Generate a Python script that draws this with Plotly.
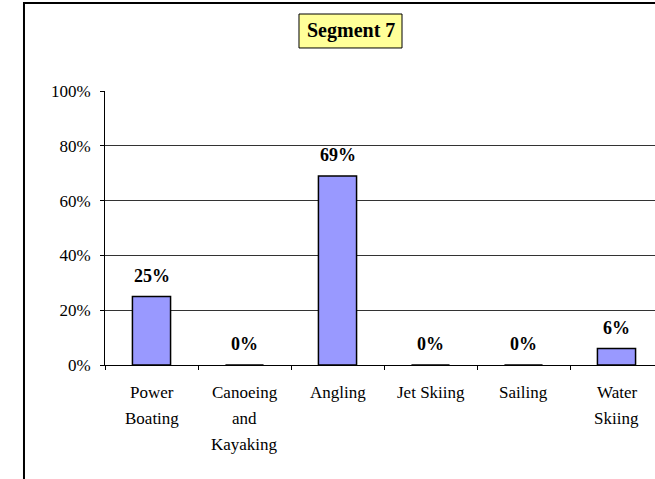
import plotly.graph_objects as go

# ── DATA ────────────────────────────────────────────────────────────────────
categories = ["Power Boating", "Canoeing and Kayaking", "Angling",
              "Jet Skiing", "Sailing", "Water Skiing"]
label_lines = [["Power", "Boating"], ["Canoeing", "and", "Kayaking"], ["Angling"],
               ["Jet Skiing"], ["Sailing"], ["Water", "Skiing"]]
shares = [0.25, 0.0, 0.69, 0.0, 0.0, 0.06]
title_text = "Segment 7"

# ── STYLE ───────────────────────────────────────────────────────────────────
BAR = "#9999FF"
FONT = "Liberation Serif"
W, H = 655, 479
L, R, T, B = 105, 0, 91, 114

fig = go.Figure(go.Bar(
    x=categories, y=shares, width=0.41,
    marker=dict(color=BAR, line=dict(color="black", width=1.5)),
    hoverinfo="skip",
))

# value labels above bars
for cat, v in zip(categories, shares):
    fig.add_annotation(x=cat, y=v, text=f"<b>{v:.0%}</b>", showarrow=False,
                       yanchor="bottom", yshift=9,
                       font=dict(family=FONT, size=18, color="black"))

# category labels, wider line spacing than plotly's default
for cat, lines in zip(categories, label_lines):
    for i, ln in enumerate(lines):
        fig.add_annotation(x=cat, y=0, text=ln, showarrow=False,
                           yanchor="middle", yshift=-(27 + 26 * i),
                           font=dict(family=FONT, size=17, color="black"))

# boxed title: yellow rect + centred text
fig.add_shape(type="rect", xref="paper", yref="paper",
              x0=0.3527, x1=0.5400, y0=1.1570, y1=1.2810,
              fillcolor="#FFFF99", line=dict(color="black", width=1))
fig.add_annotation(xref="paper", yref="paper", x=0.4464, y=1.2190,
                   xanchor="center", yanchor="middle",
                   text=f"<b>{title_text}</b>", showarrow=False,
                   font=dict(family=FONT, size=20, color="black"))

# outer chart frame (cropped by window, like the original)
fig.add_shape(type="rect", xref="paper", yref="paper",
              x0=-0.1473, x1=1.3, y0=-0.5, y1=1.321,
              line=dict(color="black", width=2), layer="above")

fig.update_layout(
    width=W, height=H,
    margin=dict(l=L, r=R, t=T, b=B),
    plot_bgcolor="white", paper_bgcolor="white",
    font=dict(family=FONT, size=16, color="black"),
    showlegend=False,
)
fig.update_xaxes(type="category", range=[-0.5, 5.414], tickson="boundaries",
                 ticks="outside", ticklen=4, tickcolor="black",
                 showticklabels=False, showline=True, linecolor="black",
                 linewidth=1, showgrid=False, fixedrange=True)
fig.update_yaxes(range=[0, 1], dtick=0.2, tickformat=".0%",
                 ticks="outside", ticklen=4, tickcolor="black",
                 ticklabelstandoff=6,
                 showline=True, linecolor="black", linewidth=1,
                 showgrid=True, gridcolor="#333333", gridwidth=1,
                 zeroline=False, fixedrange=True,
                 tickfont=dict(family=FONT, size=17, color="black"))

fig.write_html("out.html", config={"displayModeBar": False},
               post_script="document.body.style.margin='0';")
